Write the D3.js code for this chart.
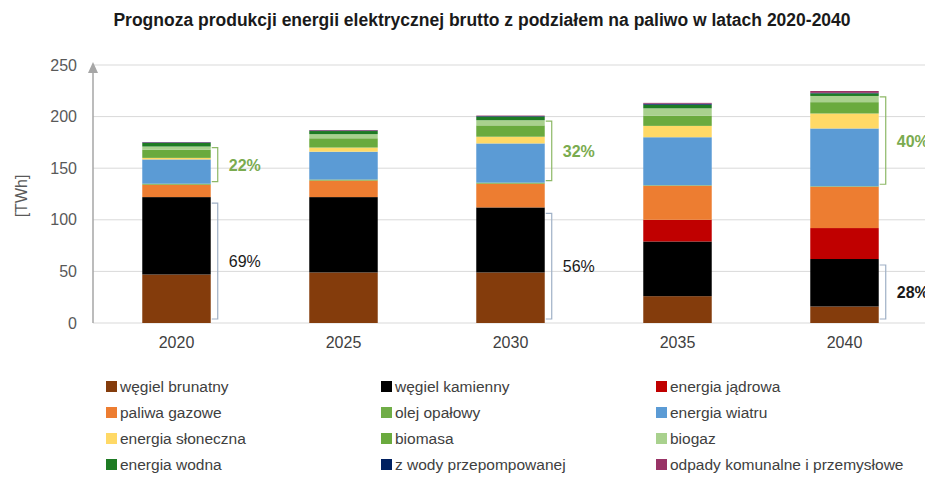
<!DOCTYPE html>
<html>
<head>
<meta charset="utf-8">
<script src="https://cdn.jsdelivr.net/npm/d3@7"></script>
<style>
  body { margin: 0; background: #fff; }
  text { font-family: "Liberation Sans", Arial, sans-serif; }
</style>
</head>
<body>
<script>
// dane [TWh]
var lata = ["2020", "2025", "2030", "2035", "2040"];
var paliwa = ["węgiel brunatny", "węgiel kamienny", "energia jądrowa", "paliwa gazowe",
    "olej opałowy", "energia wiatru", "energia słoneczna", "biomasa", "biogaz",
    "energia wodna", "z wody przepompowanej", "odpady komunalne i przemysłowe"];
var kolory = ["#843C0C", "#000000", "#C00000", "#ED7D31", "#70AD47", "#5B9BD5",
    "#FFD966", "#6AAA3E", "#A9D18E", "#1E7B24", "#002060", "#993366"];

var wegielBrunatny = [47, 49, 49, 26, 16];
var wegielKamienny = [75, 73, 63, 53, 46];
var jadrowa        = [0, 0, 0, 21, 30];
var gazowe         = [12, 16, 23, 33, 40];
var olej           = [1, 1, 1, 0.5, 0.5];
var wiatr          = [23.5, 27, 38, 46.5, 56];
var sloneczna      = [1.5, 4, 6.5, 11, 14.5];
var biomasa        = [8, 9, 11, 10, 11];
var biogaz         = [3, 4, 5, 7, 6];
var wodna          = [3.5, 3, 3.5, 3.5, 2.5];
var przepompowana  = [0.5, 0.5, 0.5, 1, 0.5];
var odpady         = [0.3, 0.5, 0.5, 0.8, 1.8];

var udzialWegla = ["69%", "", "56%", "", "28%"];
var udzialOze   = ["22%", "", "32%", "", "40%"];
var yTicks = [0, 50, 100, 150, 200, 250];

var serie = [wegielBrunatny, wegielKamienny, jadrowa, gazowe, olej, wiatr,
    sloneczna, biomasa, biogaz, wodna, przepompowana, odpady];

var tabela = lata.map(function (r, i) {
    var o = { rok: r };
    paliwa.forEach(function (p, j) { o[p] = serie[j][i]; });
    return o;
});

var w = 925, h = 478;
var pLeft = 93, pRight = 928, pTop = 65, pBottom = 323;

var svg = d3.select("body").append("svg")
    .attr("width", w)
    .attr("height", h);

var x = d3.scaleBand().domain(lata).range([pLeft, pRight]).paddingInner(0.59).paddingOuter(0.295);
var y = d3.scaleLinear().domain([0, 250]).range([pBottom, pTop]);

// tytul
svg.append("text")
    .attr("x", 482).attr("y", 26)
    .attr("text-anchor", "middle")
    .attr("font-size", "17.5px")
    .attr("font-weight", "bold")
    .attr("fill", "#1a1a1a")
    .text("Prognoza produkcji energii elektrycznej brutto z podziałem na paliwo w latach 2020-2040");

// siatka
svg.selectAll("line.grid")
    .data(yTicks)
    .enter()
    .append("line")
    .attr("class", "grid")
    .attr("x1", pLeft).attr("x2", w)
    .attr("y1", function (d) { return y(d); })
    .attr("y2", function (d) { return y(d); })
    .attr("stroke", "#d9d9d9")
    .attr("stroke-width", 1);

// os Y
var yAxis = svg.append("g")
    .attr("transform", "translate(" + pLeft + ",0)")
    .call(d3.axisLeft(y).tickValues(yTicks).tickSize(0).tickPadding(16));
yAxis.select(".domain").remove();
yAxis.attr("font-family", null);
yAxis.selectAll("text")
    .attr("font-size", "16px")
    .attr("fill", "#595959");

svg.append("line")
    .attr("x1", pLeft).attr("x2", pLeft)
    .attr("y1", pBottom).attr("y2", pTop + 2)
    .attr("stroke", "#a6a6a6").attr("stroke-width", 1.5);
svg.append("path")
    .attr("d", d3.line()([[pLeft - 5, pTop + 8], [pLeft, pTop - 3], [pLeft + 5, pTop + 8]]))
    .attr("fill", "#a6a6a6");

svg.append("text")
    .attr("transform", "translate(27," + ((pTop + pBottom) / 2 + 2) + ") rotate(-90)")
    .attr("text-anchor", "middle")
    .attr("font-size", "16px")
    .attr("fill", "#595959")
    .text("[TWh]");

// os X
var xAxis = svg.append("g")
    .attr("transform", "translate(0," + pBottom + ")")
    .call(d3.axisBottom(x).tickSize(0).tickPadding(14));
xAxis.select(".domain").remove();
xAxis.attr("font-family", null);
xAxis.selectAll("text")
    .attr("font-size", "16px")
    .attr("fill", "#404040");

// slupki
var stos = d3.stack().keys(paliwa)(tabela);

svg.append("g")
    .selectAll("g")
    .data(stos)
    .enter()
    .append("g")
    .attr("fill", function (d, i) { return kolory[i]; })
    .selectAll("rect")
    .data(function (d) { return d; })
    .enter()
    .append("rect")
    .attr("x", function (d) { return x(d.data.rok); })
    .attr("width", x.bandwidth())
    .attr("y", function (d) { return y(d[1]); })
    .attr("height", function (d) { return y(d[0]) - y(d[1]); });

// klamry z udzialami
function klamra(x0, y1, y2, kolor) {
    svg.append("path")
        .attr("d", d3.line()([[x0 - 6, y1], [x0, y1], [x0, y2], [x0 - 6, y2]]))
        .attr("fill", "none")
        .attr("stroke", kolor)
        .attr("stroke-width", 1.2);
}

lata.forEach(function (r, i) {
    var bx = x(r) + x.bandwidth() + 7;
    if (udzialWegla[i]) {
        var a = y(stos[1][i][1]) + 6, b = pBottom - 4;
        klamra(bx, a, b, "#9fb0c6");
        svg.append("text")
            .attr("x", bx + 11).attr("y", (a + b) / 2 + 6)
            .attr("font-size", "16px")
            .attr("font-weight", i == 4 ? "bold" : "normal")
            .attr("fill", "#1a1a1a")
            .text(udzialWegla[i]);
    }
    if (udzialOze[i]) {
        var c = y(stos[8][i][1]) + 1, e = y(stos[4][i][1]) - 2;
        klamra(bx, c, e, "#8db866");
        svg.append("text")
            .attr("x", bx + 11).attr("y", (c + e) / 2 + 6)
            .attr("font-size", "16px")
            .attr("font-weight", "bold")
            .attr("fill", "#7aab4f")
            .text(udzialOze[i]);
    }
});

// legenda
var kolX = [106, 381, 656];
var legenda = svg.append("g")
    .selectAll("g")
    .data(paliwa)
    .enter()
    .append("g")
    .attr("transform", function (d, i) {
        return "translate(" + kolX[i % 3] + "," + (386 + Math.floor(i / 3) * 26) + ")";
    });
legenda.append("rect")
    .attr("x", 0).attr("y", -5)
    .attr("width", 11).attr("height", 11)
    .attr("fill", function (d, i) { return kolory[i]; });
legenda.append("text")
    .attr("x", 14).attr("y", 6)
    .attr("font-size", "15.5px")
    .attr("fill", "#404040")
    .text(function (d) { return d; });
</script>
</body>
</html>
